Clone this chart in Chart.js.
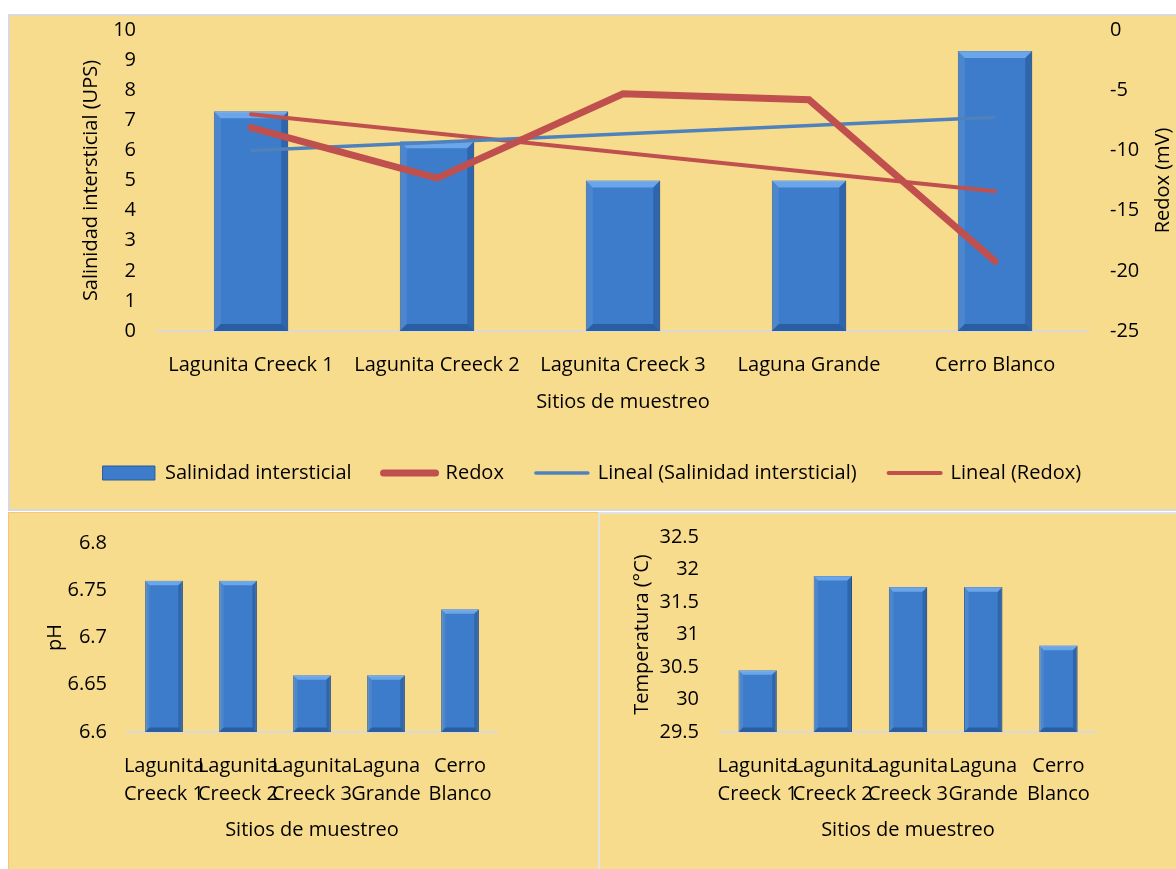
<!DOCTYPE html>
<html>
<head>
<meta charset="utf-8">
<script src="https://cdn.jsdelivr.net/npm/chart.js@4/dist/chart.umd.min.js"></script>
<style>
  body { margin: 0; background: #fff; width: 1176px; height: 869px; position: relative; overflow: hidden; }
  .panel { position: absolute; background: #F8DC8E; box-sizing: border-box; }
  .box { position: absolute; }
</style>
</head>
<body>
<div class="panel" style="left:8px;top:14px;width:1170px;height:497px;border:2px solid #D9D9D9;"></div>
<div class="panel" style="left:8px;top:512px;width:591px;height:360px;border:1px solid #F5C57A;"></div>
<div class="panel" style="left:598px;top:512px;width:580px;height:360px;border:2px solid #E3E3E3;"></div>

<div class="box" style="left:8px;top:14px;width:1168px;height:496px;"><canvas id="topChart"></canvas></div>
<div class="box" style="left:8px;top:513px;width:590px;height:356px;"><canvas id="phChart"></canvas></div>
<div class="box" style="left:598px;top:513px;width:578px;height:356px;"><canvas id="tempChart"></canvas></div>

<script>
// sitios
const sitios = ['Lagunita Creeck 1', 'Lagunita Creeck 2', 'Lagunita Creeck 3', 'Laguna Grande', 'Cerro Blanco'];
const sitiosCortos = [['Lagunita', 'Creeck 1'], ['Lagunita', 'Creeck 2'], ['Lagunita', 'Creeck 3'], ['Laguna', 'Grande'], ['Cerro', 'Blanco']];

// grafico de arriba
const salinidad = [7.3, 6.3, 5.0, 5.0, 9.3];
const redox = [-8.1, -12.3, -5.3, -5.8, -19.2];
const linealSalinidad = [6.0, null, null, null, 7.1];
const linealRedox = [-7.0, null, null, null, -13.4];

// graficos de abajo
const ph = [6.76, 6.76, 6.66, 6.66, 6.73];
const temperatura = [30.45, 31.9, 31.73, 31.73, 30.83];

const AZUL = '#3D7CCA';
const AZUL_BORDE = '#2A5A96';
const ROJO = '#C0504D';
const AZUL_LINEA = '#4F81BD';
const FUENTE = '"Open Sans", Lato, sans-serif';

Chart.defaults.font.family = FUENTE;
Chart.defaults.font.size = 20;
Chart.defaults.color = '#000';
Chart.defaults.animation = false;

const numero = v => String(+v.toFixed(2));
// sin el relleno extra que Chart.js deja arriba y abajo del eje vertical
const sinRelleno = s => { s.paddingTop = 0; s.paddingBottom = 0; };
const sinRejilla = { display: false, drawTicks: false };

// bisel tipo Excel sobre las barras
const bevel = {
  id: 'bevel',
  afterDatasetDraw(chart, args){
    const meta = args.meta;
    if(meta.type !== 'bar') return;
    const ctx = chart.ctx;
    const area = chart.chartArea;
    meta.data.forEach(el => {
      const {x, y, base, width} = el.getProps(['x', 'y', 'base', 'width'], true);
      const l = x - width/2, r = x + width/2, t = y, b = Math.min(base, area.bottom);
      const e = Math.min(7, width * 0.12);
      ctx.save();
      ctx.fillStyle = 'rgba(140,195,255,0.6)';
      ctx.beginPath(); ctx.moveTo(l, t); ctx.lineTo(r, t); ctx.lineTo(r - e, t + e); ctx.lineTo(l + e, t + e); ctx.closePath(); ctx.fill();
      ctx.fillStyle = 'rgba(255,255,255,0.08)';
      ctx.beginPath(); ctx.moveTo(l, t); ctx.lineTo(l + e, t + e); ctx.lineTo(l + e, b - e); ctx.lineTo(l, b); ctx.closePath(); ctx.fill();
      ctx.fillStyle = 'rgba(0,25,70,0.22)';
      ctx.beginPath(); ctx.moveTo(r, t); ctx.lineTo(r - e, t + e); ctx.lineTo(r - e, b - e); ctx.lineTo(r, b); ctx.closePath(); ctx.fill();
      ctx.fillStyle = 'rgba(0,25,70,0.3)';
      ctx.beginPath(); ctx.moveTo(l, b); ctx.lineTo(l + e, b - e); ctx.lineTo(r - e, b - e); ctx.lineTo(r, b); ctx.closePath(); ctx.fill();
      ctx.restore();
    });
  }
};

// titulo del eje derecho, leido de abajo hacia arriba
const rightTitle = {
  id: 'rightTitle',
  afterDraw(chart, args, opts){
    if(!opts.text) return;
    const s = chart.scales.y1;
    const ctx = chart.ctx;
    ctx.save();
    ctx.translate(s.right - 13, (chart.chartArea.top + chart.chartArea.bottom) / 2);
    ctx.rotate(-Math.PI / 2);
    ctx.font = '20px ' + FUENTE;
    ctx.fillStyle = '#000';
    ctx.textAlign = 'center';
    ctx.textBaseline = 'middle';
    ctx.fillText(opts.text, 0, 0);
    ctx.restore();
  }
};

new Chart(document.getElementById('topChart'), {
  data: {
    labels: sitios,
    datasets: [
      { type: 'bar', label: 'Salinidad intersticial', data: salinidad, yAxisID: 'y', order: 1,
        backgroundColor: AZUL, borderColor: AZUL_BORDE, borderWidth: 1,
        categoryPercentage: 1, barPercentage: 0.4 },
      { type: 'line', label: 'Redox', data: redox, yAxisID: 'y1', order: 0,
        borderColor: ROJO, borderWidth: 7, pointRadius: 0, borderCapStyle: 'round', tension: 0 },
      { type: 'line', label: 'Lineal (Salinidad intersticial)', data: linealSalinidad, yAxisID: 'y', order: 0,
        borderColor: AZUL_LINEA, borderWidth: 3.5, pointRadius: 0, spanGaps: true },
      { type: 'line', label: 'Lineal (Redox)', data: linealRedox, yAxisID: 'y1', order: 0,
        borderColor: ROJO, borderWidth: 4, pointRadius: 0, spanGaps: true, borderCapStyle: 'round' }
    ]
  },
  options: {
    responsive: true,
    maintainAspectRatio: false,
    layout: { padding: { top: 16, right: 0, bottom: 17, left: 0 } },
    plugins: {
      tooltip: { enabled: false },
      rightTitle: { text: 'Redox (mV)' },
      legend: {
        position: 'bottom',
        labels: {
          usePointStyle: true,
          pointStyleWidth: 52,
          boxHeight: 14,
          padding: 32,
          generateLabels: chart => chart.data.datasets.map((ds, i) => ({
            text: ds.label,
            datasetIndex: i,
            fillStyle: ds.type === 'bar' ? AZUL : ds.borderColor,
            strokeStyle: ds.type === 'bar' ? AZUL_BORDE : ds.borderColor,
            lineWidth: ds.type === 'bar' ? 1 : ds.borderWidth,
            lineCap: 'round',
            pointStyle: ds.type === 'bar' ? 'rect' : 'line',
            fontColor: '#000',
            hidden: false
          }))
        }
      }
    },
    scales: {
      x: {
        grid: sinRejilla,
        border: { color: '#D9D9D9', width: 2 },
        ticks: { padding: 22, autoSkip: false, maxRotation: 0 },
        title: { display: true, text: 'Sitios de muestreo', padding: { top: 0, bottom: 17 } },
        afterFit: s => { s.height = 100; }
      },
      y: {
        position: 'left', min: 0, max: 10,
        grid: sinRejilla,
        border: { display: false },
        ticks: { stepSize: 1, padding: 22 },
        title: { display: true, text: 'Salinidad intersticial (UPS)', padding: { top: 71, bottom: 0 } },
        afterFit: s => { s.width = 150; sinRelleno(s); }
      },
      y1: {
        position: 'right', min: -25, max: 0,
        grid: sinRejilla,
        border: { display: false },
        ticks: { stepSize: 5, padding: 22, crossAlign: 'near' },
        afterFit: s => { s.width = 88; sinRelleno(s); }
      }
    }
  },
  plugins: [bevel, rightTitle]
});

function mountSmall(id, values, yTitle, min, max, step, yWidth, pad, titlePad, tickPad){
  new Chart(document.getElementById(id), {
    type: 'bar',
    data: {
      labels: sitiosCortos,
      datasets: [{ label: yTitle, data: values, backgroundColor: AZUL, borderColor: AZUL_BORDE, borderWidth: 1,
        categoryPercentage: 1, barPercentage: 0.51 }]
    },
    options: {
      responsive: true,
      maintainAspectRatio: false,
      layout: { padding: pad },
      plugins: { legend: { display: false }, tooltip: { enabled: false } },
      scales: {
        x: {
          grid: sinRejilla,
          border: { color: '#D9D9D9', width: 2 },
          ticks: { padding: 20, autoSkip: false, maxRotation: 0, minRotation: 0, font: { lineHeight: 1.4 } },
          title: { display: true, text: 'Sitios de muestreo', padding: { top: 0, bottom: 27 } },
          afterFit: s => { s.height = 137; }
        },
        y: {
          min, max,
          grid: sinRejilla,
          border: { display: false },
          ticks: { stepSize: step, padding: tickPad, callback: numero },
          title: { display: true, text: yTitle, padding: { top: titlePad, bottom: 0 } },
          afterFit: s => { s.width = yWidth; sinRelleno(s); }
        }
      }
    },
    plugins: [bevel]
  });
}

mountSmall('phChart', ph, 'pH', 6.6, 6.8, 0.05, 119, { top: 30, right: 101, bottom: 0, left: 0 }, 35, 20);
mountSmall('tempChart', temperatura, 'Temperatura (°C)', 29.5, 32.5, 0.5, 122, { top: 24, right: 80, bottom: 0, left: 0 }, 32, 21);
</script>
</body>
</html>
